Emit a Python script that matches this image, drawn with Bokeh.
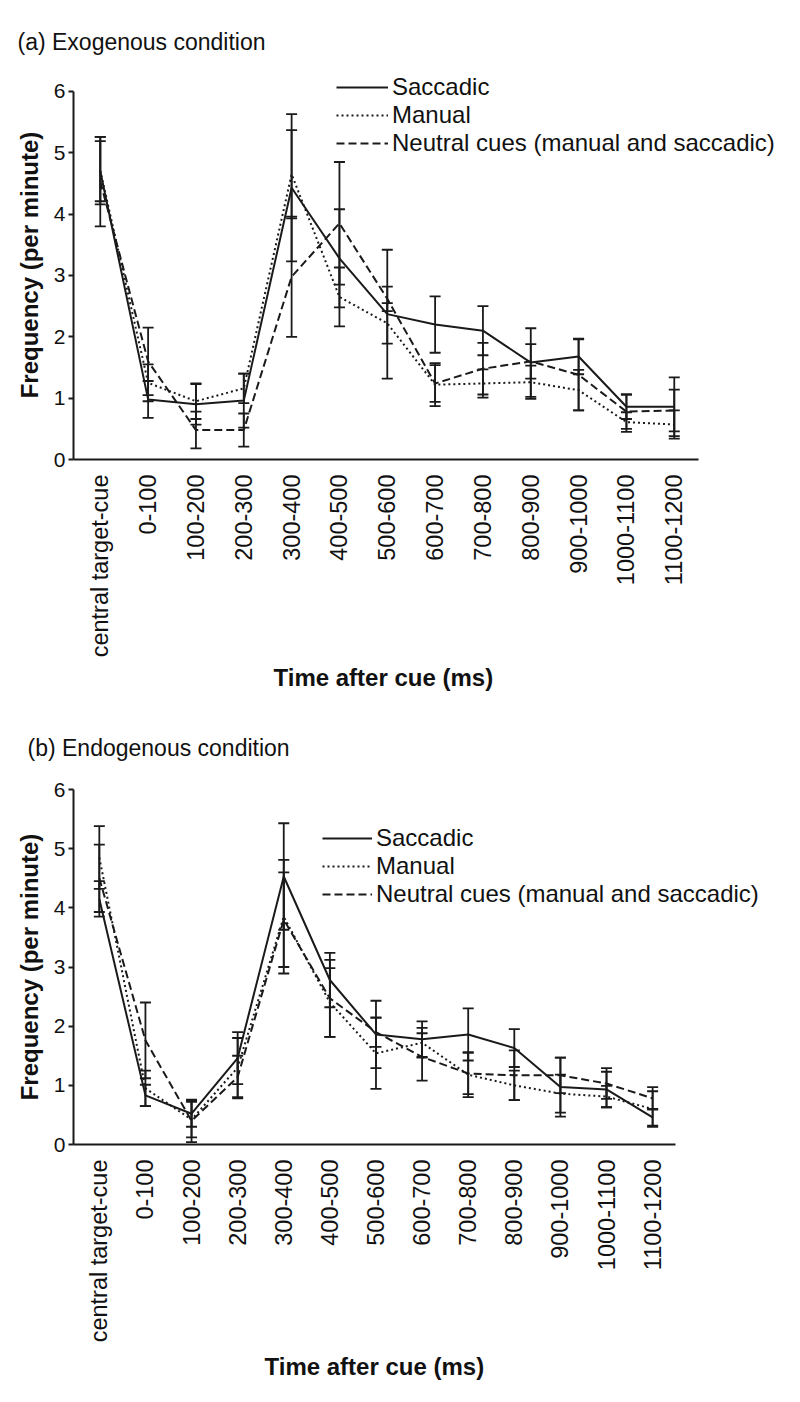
import math
import numpy as np
from bokeh.plotting import figure
from bokeh.models import (Range1d, FixedTicker, Legend, LegendItem, Whisker,
                          TeeHead, ColumnDataSource, Title)
from bokeh.layouts import column
from bokeh.embed import file_html
from bokeh.resources import INLINE

# ---------------- data ----------------
categories = ["central target-cue", "0-100", "100-200", "200-300", "300-400",
              "400-500", "500-600", "600-700", "700-800", "800-900",
              "900-1000", "1000-1100", "1100-1200"]
y_ticks = [0, 1, 2, 3, 4, 5, 6]
series_names = ["Saccadic", "Manual", "Neutral cues (manual and saccadic)"]

# (a) Exogenous condition
sacc_a = [4.70, 0.98, 0.90, 0.96, 4.43, 3.28, 2.37, 2.20, 2.10, 1.58, 1.68, 0.86, 0.86]
sacc_a_err = [0.49, 0.30, 0.33, 0.44, 1.20, 0.80, 1.05, 0.46, 0.40, 0.56, 0.29, 0.20, 0.48]
manual_a = [4.71, 1.25, 0.95, 1.16, 4.65, 2.65, 2.22, 1.22, 1.24, 1.26, 1.13, 0.61, 0.57]
manual_a_err = [0.55, 0.30, 0.29, 0.24, 0.72, 0.48, 0.33, 0.35, 0.23, 0.27, 0.33, 0.16, 0.23]
neutral_a = [4.53, 1.60, 0.48, 0.48, 2.98, 3.85, 2.62, 1.24, 1.48, 1.60, 1.38, 0.78, 0.80]
neutral_a_err = [0.73, 0.55, 0.30, 0.27, 0.98, 1.00, 0.20, 0.30, 0.42, 0.28, 0.58, 0.28, 0.34]

# (b) Endogenous condition
sacc_b = [4.15, 0.83, 0.52, 1.46, 4.53, 2.78, 1.86, 1.78, 1.86, 1.63, 0.97, 0.93, 0.46]
sacc_b_err = [0.30, 0.18, 0.22, 0.44, 0.90, 0.46, 0.57, 0.30, 0.44, 0.32, 0.50, 0.30, 0.14]
manual_b = [4.85, 0.95, 0.42, 1.30, 3.85, 2.40, 1.54, 1.72, 1.18, 1.00, 0.86, 0.81, 0.60]
manual_b_err = [0.53, 0.30, 0.30, 0.50, 0.96, 0.58, 0.60, 0.25, 0.38, 0.25, 0.32, 0.18, 0.30]
neutral_b = [4.50, 1.76, 0.40, 1.14, 3.80, 2.47, 1.90, 1.48, 1.20, 1.17, 1.17, 1.03, 0.78]
neutral_b_err = [0.57, 0.64, 0.36, 0.36, 0.80, 0.65, 0.25, 0.40, 0.35, 0.42, 0.30, 0.26, 0.19]

# ---------------- styling ----------------
FONT = "Liberation Sans"
INK = "#1a1a1a"
TXT = "#111111"
STYLES = [dict(line_dash="solid", line_width=2.0),
          dict(line_dash="2 3", line_width=2.0),
          dict(line_dash="8 4", line_width=2.0)]


def make_panel(title, data, geom):
    xs = list(range(len(categories)))
    p = figure(width=800, height=geom["height"],
               x_range=Range1d(-0.56, geom["xend"]),
               y_range=Range1d(0, geom["yend"]),
               output_backend="svg", toolbar_location=None,
               min_border_left=73, min_border_right=10,
               min_border_top=geom["top"], min_border_bottom=geom["bottom"])
    p.outline_line_color = None
    p.grid.visible = False

    # top title
    p.title.text = title
    p.title.align = "left"
    p.title.offset = geom["title_offset"]
    p.title.standoff = geom["title_standoff"]
    p.title.text_font = FONT
    p.title.text_font_style = "normal"
    p.title.text_font_size = "23px"
    p.title.text_color = TXT

    # x axis
    xa = p.xaxis[0]
    xa.bounds = (-0.56, geom["xaxis_end"])
    xa.ticker = FixedTicker(ticks=xs)
    xa.major_label_overrides = {i: c for i, c in enumerate(categories)}
    xa.major_label_orientation = math.pi / 2
    xa.major_tick_line_color = None
    xa.minor_tick_line_color = None
    xa.axis_line_width = 2
    xa.axis_line_color = INK
    xa.major_label_text_font = FONT
    xa.major_label_text_font_size = "23.5px"
    xa.major_label_text_color = TXT
    xa.major_label_standoff = 9

    # y axis
    ya = p.yaxis[0]
    ya.bounds = (0, 6)
    ya.ticker = FixedTicker(ticks=y_ticks)
    ya.major_tick_out = 5
    ya.major_tick_in = 0
    ya.major_tick_line_width = 2
    ya.major_tick_line_color = INK
    ya.minor_tick_line_color = None
    ya.axis_line_width = 2
    ya.axis_line_color = INK
    ya.major_label_text_font = FONT
    ya.major_label_text_font_size = "21px"
    ya.major_label_text_color = TXT
    ya.major_label_standoff = 3
    ya.axis_label = "Frequency (per minute)"
    ya.axis_label_text_font = FONT
    ya.axis_label_text_font_style = "bold"
    ya.axis_label_text_font_size = "24px"
    ya.axis_label_text_color = TXT
    ya.axis_label_standoff = 8

    renderers = []
    for (mean, err), style in zip(data, STYLES):
        mean = np.asarray(mean)
        err = np.asarray(err)
        src = ColumnDataSource(dict(x=xs, y=mean, lower=mean - err, upper=mean + err))
        w = Whisker(source=src, base="x", lower="lower", upper="upper",
                    line_color=INK, line_width=1.8,
                    upper_head=TeeHead(size=11, line_color=INK, line_width=1.8),
                    lower_head=TeeHead(size=11, line_color=INK, line_width=1.8))
        p.add_layout(w)
        r = p.line("x", "y", source=src, line_color=INK, **style)
        renderers.append(r)

    legend = Legend(items=[LegendItem(label=n, renderers=[r])
                           for n, r in zip(series_names, renderers)],
                    location=geom["legend_loc"], glyph_width=geom["glyph_w"],
                    glyph_height=20, label_height=20, spacing=geom["legend_spacing"],
                    padding=0, margin=0, label_standoff=4, border_line_color=None,
                    background_fill_alpha=0, label_text_font=FONT,
                    label_text_font_size="24px", label_text_color=TXT)
    p.add_layout(legend)

    xlab = Title(text="Time after cue (ms)", align="left",
                 offset=geom["xlab_offset"], standoff=geom["xlab_standoff"],
                 text_font=FONT, text_font_size="24px", text_font_style="bold",
                 text_color=TXT)
    p.add_layout(xlab, "below")
    return p


geom_a = dict(height=700, xend=14.43, yend=6.342, xaxis_end=12.51,
              top=70, bottom=241, legend_loc=(263, 302), legend_spacing=-2,
              glyph_w=52, title_offset=-56, title_standoff=32,
              xlab_offset=200, xlab_standoff=2)
geom_b = dict(height=702, xend=14.99, yend=6.0, xaxis_end=12.5,
              top=89, bottom=258, legend_loc=(249, 236), legend_spacing=-2,
              glyph_w=50, title_offset=-46, title_standoff=58,
              xlab_offset=191, xlab_standoff=10)

p1 = make_panel("(a) Exogenous condition",
                [(sacc_a, sacc_a_err), (manual_a, manual_a_err), (neutral_a, neutral_a_err)],
                geom_a)
p2 = make_panel("(b) Endogenous condition",
                [(sacc_b, sacc_b_err), (manual_b, manual_b_err), (neutral_b, neutral_b_err)],
                geom_b)

layout = column(p1, p2, spacing=0)
open("out.html", "w").write(file_html(layout, INLINE))
